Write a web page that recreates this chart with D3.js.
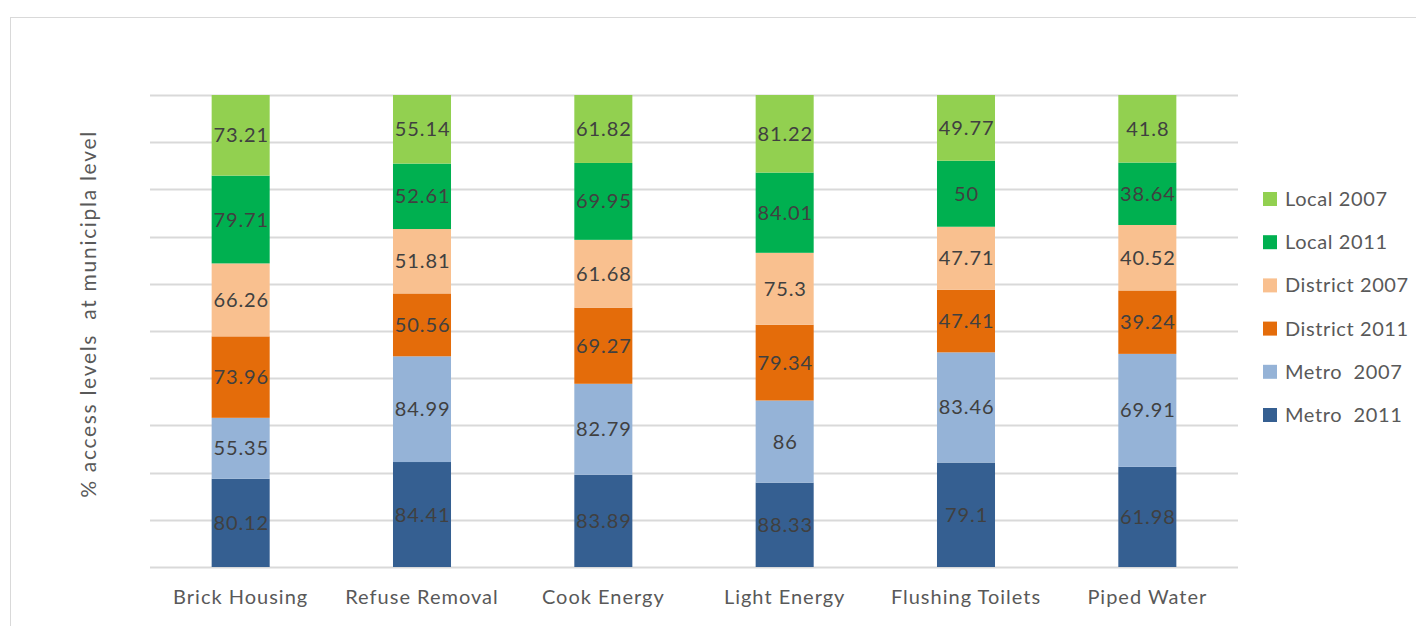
<!DOCTYPE html>
<html>
<head>
<meta charset="utf-8">
<script src="https://cdn.jsdelivr.net/npm/d3@7"></script>
<style>
  html, body { margin: 0; padding: 0; background: #fff; }
  svg { display: block; font-family: Lato, "Open Sans", sans-serif; }
</style>
</head>
<body>
<svg id="chart" width="1416" height="626"></svg>
<script>
// Access to services, by municipality type and year
const categories = ["Brick Housing", "Refuse Removal", "Cook Energy", "Light Energy", "Flushing Toilets", "Piped Water"];
const seriesNames = ["Metro  2011", "Metro  2007", "District 2011", "District 2007", "Local 2011", "Local 2007"];
const metro2011    = [80.12, 84.41, 83.89, 88.33, 79.1, 61.98];
const metro2007    = [55.35, 84.99, 82.79, 86, 83.46, 69.91];
const district2011 = [73.96, 50.56, 69.27, 79.34, 47.41, 39.24];
const district2007 = [66.26, 51.81, 61.68, 75.3, 47.71, 40.52];
const local2011    = [79.71, 52.61, 69.95, 84.01, 50, 38.64];
const local2007    = [73.21, 55.14, 61.82, 81.22, 49.77, 41.8];
const colors = ["#355F91", "#95B3D7", "#E46C0A", "#F9C08F", "#00B050", "#92D050"];
const yLabel = "% access levels  at municipla level";

const seriesValues = [metro2011, metro2007, district2011, district2007, local2011, local2007];
const rows = categories.map((c, i) => {
  const r = { category: c };
  seriesNames.forEach((s, j) => { r[s] = seriesValues[j][i]; });
  return r;
});

const svg = d3.select("#chart");
const margin = { left: 150, right: 178, top: 95, bottom: 59 };
const W = 1416, H = 626;

// outer chart frame
svg.append("rect")
  .attr("x", 10.5).attr("y", 17.5)
  .attr("width", W + 20).attr("height", H + 20)
  .attr("fill", "none").attr("stroke", "#d9d9d9").attr("stroke-width", 1);

const x = d3.scaleBand().domain(categories)
  .range([margin.left, W - margin.right]).paddingInner(0.68).paddingOuter(0.34);
const y = d3.scaleLinear().domain([0, 1]).range([H - margin.bottom, margin.top]);

// horizontal gridlines
svg.append("g").selectAll("line")
  .data(d3.range(0, 1.0001, 0.1))
  .join("line")
  .attr("x1", margin.left).attr("x2", W - margin.right)
  .attr("y1", d => Math.round(y(d)) + 0.5).attr("y2", d => Math.round(y(d)) + 0.5)
  .attr("stroke", "#d9d9d9").attr("stroke-width", 2);

const stack = d3.stack().keys(seriesNames).offset(d3.stackOffsetExpand);
const layers = stack(rows);

const g = svg.append("g");
layers.forEach((layer, j) => {
  const lg = g.append("g");
  lg.selectAll("rect").data(layer).join("rect")
    .attr("x", d => x(d.data.category))
    .attr("width", x.bandwidth())
    .attr("y", d => y(d[1]))
    .attr("height", d => y(d[0]) - y(d[1]))
    .attr("fill", colors[j]);
  lg.selectAll("text").data(layer).join("text")
    .attr("x", d => x(d.data.category) + x.bandwidth() / 2 + 0.6)
    .attr("y", d => (y(d[0]) + y(d[1])) / 2)
    .attr("dy", "0.35em")
    .attr("text-anchor", "middle")
    .attr("font-size", 20)
    .attr("letter-spacing", 0.9)
    .attr("fill", "#404040")
    .text(d => d.data[layer.key]);
});

// category axis
const xAxis = svg.append("g")
  .attr("transform", `translate(0,${H - margin.bottom})`)
  .call(d3.axisBottom(x).tickSize(0).tickPadding(23));
xAxis.select(".domain").remove();
xAxis.selectAll("text").attr("font-size", 20).attr("fill", "#595959")
  .attr("letter-spacing", 1.0)
  .attr("font-family", "Lato, 'Open Sans', sans-serif");

// y axis title
svg.append("text")
  .attr("transform", `translate(96,314) rotate(-90)`)
  .attr("text-anchor", "middle")
  .attr("font-size", 21)
  .attr("letter-spacing", 1.7)
  .attr("fill", "#595959")
  .style("white-space", "pre")
  .text(yLabel);

// legend (top entry = top of stack)
const legendOrder = seriesNames.map((s, j) => ({ name: s, color: colors[j] })).reverse();
const lgd = svg.append("g").attr("transform", "translate(1263,199)");
const items = lgd.selectAll("g").data(legendOrder).join("g")
  .attr("transform", (d, i) => `translate(0,${i * 43.2})`);
items.append("rect").attr("x", 0).attr("y", -7).attr("width", 14).attr("height", 14)
  .attr("fill", d => d.color);
items.append("text").attr("x", 22).attr("y", 0).attr("dy", "0.35em")
  .attr("font-size", 20).attr("fill", "#595959")
  .attr("letter-spacing", 0.6)
  .style("white-space", "pre")
  .text(d => d.name);
</script>
</body>
</html>
